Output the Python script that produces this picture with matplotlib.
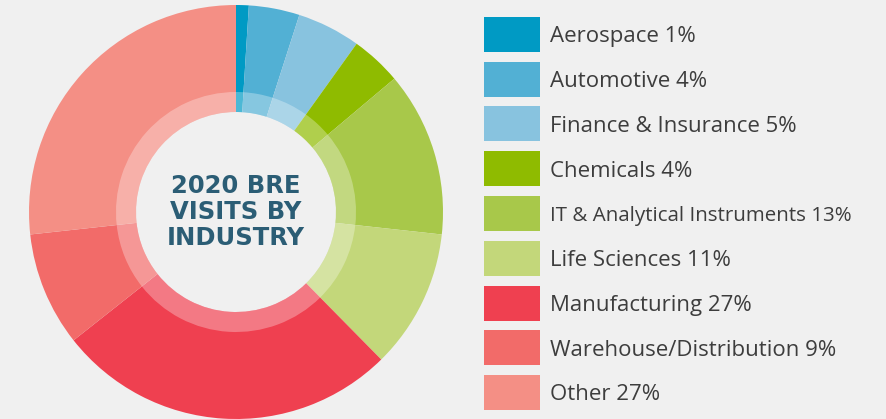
import matplotlib
matplotlib.use("Agg")
import matplotlib.pyplot as plt
from matplotlib.patches import Rectangle

categories = ["Aerospace", "Automotive", "Finance & Insurance", "Chemicals",
              "IT & Analytical Instruments", "Life Sciences", "Manufacturing",
              "Warehouse/Distribution", "Other"]
percentages = [1, 4, 5, 4, 13, 11, 27, 9, 27]
colors = ["#009ac4", "#52b0d4", "#88c3df", "#8fbb00", "#a8c84a",
          "#c3d77a", "#ef4050", "#f26b69", "#f48f85"]
center_title = "2020 BRE\nVISITS BY\nINDUSTRY"

W, H = 886, 419
BG = "#f0f0f0"
fig = plt.figure(figsize=(W / 100, H / 100), dpi=100, facecolor=BG)
ax = fig.add_axes([0, 0, 1, 1])
ax.set_facecolor(BG)

cx, cy = 236, H - 212
R_out, R_mid, R_in = 207, 120, 100

ax.pie(percentages, colors=colors, center=(cx, cy), radius=R_out,
       startangle=90, counterclock=False,
       wedgeprops=dict(width=R_out - R_in, linewidth=0))
ax.pie(percentages, colors=["white"] * len(percentages), center=(cx, cy),
       radius=R_mid, startangle=90, counterclock=False,
       wedgeprops=dict(width=R_mid - R_in, linewidth=0, alpha=0.3))

ax.text(cx, cy, center_title, ha="center", va="center",
        fontsize=17.5, fontweight="bold", color="#2b5d75",
        family="DejaVu Sans", linespacing=1.1)

ax.set_xlim(0, W)
ax.set_ylim(0, H)
ax.set_aspect("auto")
ax.axis("off")

renderer = fig.canvas.get_renderer()
top0, step, sq_h = 17, 44.75, 35
max_w = 302
base_fs = 16
for i, (cat, pct, col) in enumerate(zip(categories, percentages, colors)):
    top = top0 + i * step
    ax.add_patch(Rectangle((484, H - top - sq_h), 56, sq_h,
                           facecolor=col, edgecolor="none"))
    t = ax.text(550, H - (top + 25.3), f"{cat} {pct}%", ha="left", va="baseline",
                fontsize=base_fs, color="#3d3d3d", family="Open Sans")
    w = t.get_window_extent(renderer).width
    if w > max_w:
        t.set_fontsize(base_fs * max_w / w)

fig.savefig("out.png", dpi=100, facecolor=BG)
